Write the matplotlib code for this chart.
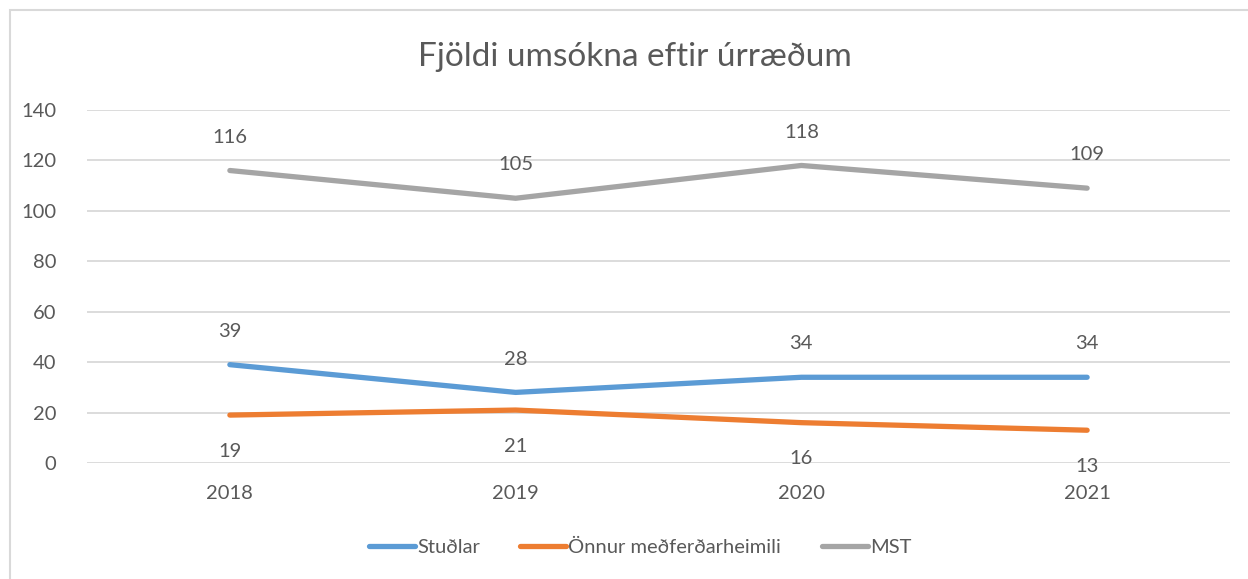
import matplotlib
matplotlib.use("Agg")
import matplotlib.pyplot as plt
from matplotlib.patches import Rectangle

plt.rcParams['font.family'] = ['Lato', 'DejaVu Sans']

years = ["2018", "2019", "2020", "2021"]
studlar = [39, 28, 34, 34]
onnur = [19, 21, 16, 13]
mst = [116, 105, 118, 109]

series = [
    ("Stuðlar", studlar, "#5B9BD5", "above"),
    ("Önnur meðferðarheimili", onnur, "#ED7D31", "below"),
    ("MST", mst, "#A5A5A5", "above"),
]

txt = "#595959"
W, H = 1248, 579
fig = plt.figure(figsize=(W / 100, H / 100), dpi=100)
fig.patches.append(Rectangle((10 / W, -0.01), 1.02, 1 - 10 / H + 0.01, transform=fig.transFigure,
                             fill=False, edgecolor="#D9D9D9", linewidth=1.5))

ax = fig.add_axes([87 / W, 1 - 463 / H, (1230 - 87) / W, (463 - 110) / H])
x = list(range(len(years)))
for name, vals, col, pos in series:
    ax.plot(x, vals, color=col, linewidth=3.8, solid_capstyle="round", label=name, zorder=3)
    for xi, v in zip(x, vals):
        off = 24 if pos == "above" else -26
        ax.annotate(str(v), (xi, v), xytext=(0, off), textcoords="offset points",
                    ha="center", va="center", fontsize=14.5, color=txt)

ax.set_xlim(-0.5, len(years) - 0.5)
ax.set_ylim(0, 140)
ax.set_yticks(range(0, 141, 20))
ax.set_xticks(x)
ax.set_xticklabels(years)
ax.grid(axis="y", color="#D9D9D9", linewidth=1.3)
ax.set_axisbelow(True)
for s in ax.spines.values():
    s.set_visible(False)
ax.tick_params(axis="both", length=0, labelsize=14.5, colors=txt)
ax.tick_params(axis="y", pad=22)
ax.tick_params(axis="x", pad=16)

fig.text(635 / W, 1 - 57 / H, "Fjöldi umsókna eftir úrræðum", ha="center", va="center",
         fontsize=24, color=txt)

leg = fig.legend(loc="center", bbox_to_anchor=(640 / W, 1 - 547 / H), ncol=3, frameon=False,
                 fontsize=14.5, handlelength=2.3, handletextpad=0.1, columnspacing=2.0)
for t in leg.get_texts():
    t.set_color(txt)

fig.savefig("out.png", dpi=100)
